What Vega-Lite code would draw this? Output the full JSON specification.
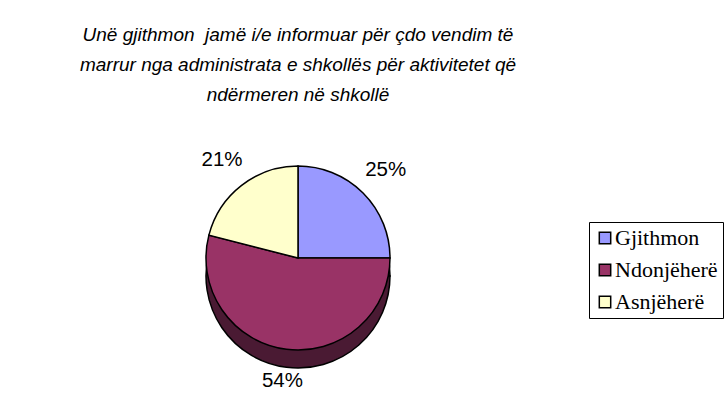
{
  "$schema": "https://vega.github.io/schema/vega-lite/v6.json",
  "autosize": "none",
  "width": 578,
  "height": 296,
  "padding": {"left": 9, "top": 110, "right": 140, "bottom": 12},
  "background": "white",
  "title": {
    "text": ["Unë gjithmon\u00a0 jamë i/e informuar për çdo vendim të", "marrur nga administrata e shkollës për aktivitetet që", "ndërmeren në shkollë"],
    "font": "Liberation Sans",
    "fontStyle": "italic",
    "fontWeight": "normal",
    "fontSize": 19,
    "lineHeight": 30,
    "anchor": "middle",
    "frame": "group",
    "offset": 5,
    "color": "black"
  },
  "data": {
    "values": [
      {"category": "Gjithmon", "share": 0.25, "rank": 1},
      {"category": "Ndonjëherë", "share": 0.54, "rank": 2},
      {"category": "Asnjëherë", "share": 0.21, "rank": 3}
    ]
  },
  "encoding": {
    "theta": {"field": "share", "type": "quantitative", "stack": true},
    "order": {"field": "rank", "type": "quantitative"}
  },
  "layer": [
    {
      "mark": {"type": "arc", "radius": 92, "yOffset": 18, "fill": "#4a1a33", "stroke": "black", "strokeWidth": 1.5}
    },
    {
      "mark": {"type": "arc", "radius": 92, "stroke": "black", "strokeWidth": 1.5},
      "encoding": {
        "color": {
          "field": "category",
          "type": "nominal",
          "sort": ["Gjithmon", "Ndonjëherë", "Asnjëherë"],
          "scale": {"domain": ["Gjithmon", "Ndonjëherë", "Asnjëherë"], "range": ["#9999ff", "#993366", "#ffffcc"]},
          "legend": {
            "orient": "none",
            "legendX": 580,
            "legendY": 112,
            "title": null,
            "symbolType": "square",
            "symbolSize": 130,
            "symbolStrokeColor": "black",
            "symbolStrokeWidth": 1.5,
            "labelFont": "Liberation Serif",
            "labelFontSize": 22,
            "labelColor": "black",
            "labelOffset": -1,
            "labelLimit": 300,
            "strokeColor": "black",
            "padding": 5,
            "rowPadding": 10
          }
        }
      }
    },
    {
      "mark": {"type": "text", "radius": 124, "font": "Liberation Sans", "fontSize": 20.5, "fill": "black"},
      "encoding": {
        "text": {"field": "share", "type": "quantitative", "format": ".0%"}
      }
    }
  ],
  "config": {"view": {"stroke": null}}
}
